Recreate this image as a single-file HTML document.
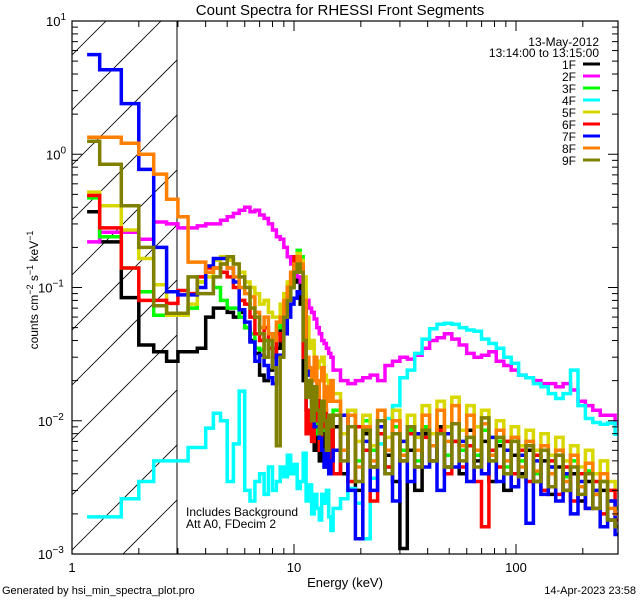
<!DOCTYPE html>
<html><head><meta charset="utf-8"><style>
html,body{margin:0;padding:0;background:#fff;width:640px;height:600px;overflow:hidden;}
svg{display:block;font-family:"Liberation Sans",sans-serif;}
</style></head><body>
<svg id="chart" width="640" height="600" viewBox="0 0 640 600">
<defs><clipPath id="plotclip"><rect x="72" y="21" width="546" height="533"/></clipPath>
<clipPath id="hatchclip"><rect x="72" y="21" width="105" height="533"/></clipPath></defs>
<rect width="640" height="600" fill="#fff"/>
<text x="340" y="15" font-size="15" text-anchor="middle">Count Spectra for RHESSI Front Segments</text>
<g id="hatch" clip-path="url(#hatchclip)"></g>
<line x1="177" y1="21" x2="177" y2="554" stroke="#000" stroke-width="1"/>
<g id="series" clip-path="url(#plotclip)"></g>
<rect x="72" y="21" width="546" height="533" fill="none" stroke="#000" stroke-width="1.2"/>
<g id="ticks"></g>
<text x="186" y="516" font-size="12">Includes Background</text>
<text x="186" y="528" font-size="12">Att A0, FDecim 2</text>
<text x="345" y="587" font-size="13" text-anchor="middle">Energy (keV)</text>
<text transform="translate(38,290) rotate(-90)" font-size="12" text-anchor="middle">counts cm<tspan font-size="9" dy="-5">−2</tspan><tspan dy="5"> s</tspan><tspan font-size="9" dy="-5">−1</tspan><tspan dy="5"> keV</tspan><tspan font-size="9" dy="-5">−1</tspan></text>
<text x="2" y="594" font-size="11">Generated by hsi_min_spectra_plot.pro</text>
<text x="636" y="594" font-size="11" text-anchor="end">14-Apr-2023 23:58</text>
<text x="599" y="46" font-size="12" text-anchor="end">13-May-2012</text>
<text x="599" y="57" font-size="12" text-anchor="end">13:14:00 to 13:15:00</text>
<g id="legend"></g>
</svg>
<script>
const seriesNames = ["1F","2F","3F","4F","5F","6F","7F","8F","9F"];
const seriesColors = ["#000000","#ff00ff","#00ff00","#00ffff","#d8d800","#ff0000","#0000ff","#ff8000","#808000"];
const lowEdges = [1.17,1.333,1.667,2.0,2.333,2.667,3.0];
const xTickMajors = [1,10,100];
const xTickLabels = ["1","10","100"];
const yTickExps = [-3,-2,-1,0,1];

const s1F = [0.37,0.22,0.084,0.037,0.033,0.028,
0.033,0.033,0.035,0.06,0.07,0.07,0.065,0.06,0.065,0.05,0.04,0.032,0.022,0.02,0.024,0.03,0.035,0.05,0.07,0.09,0.1,0.12,0.11,0.075,0.02,0.012,0.008,0.009,0.006,0.0075,0.005,0.008,0.0045,0.007,0.006,0.0055,
0.009,0.004,0.012,0.003,0.008,0.0045,0.010,0.0055,0.0035,0.0011,0.006,0.003,0.008,0.005,0.009,0.0045,0.007,0.004,0.0085,0.005,0.007,0.0035,0.0065,0.003,0.0055,0.004,0.006,0.0035,0.005,0.0028,0.0045,0.003,0.004,0.0025,0.0035,0.0022,0.003,0.0018,0.0016];
const s2F = [0.22,0.26,0.26,0.23,0.31,0.30,
0.28,0.28,0.29,0.30,0.30,0.32,0.34,0.36,0.38,0.40,0.37,0.38,0.35,0.33,0.30,0.27,0.24,0.23,0.20,0.17,0.15,0.14,0.12,0.11,0.09,0.08,0.07,0.065,0.058,0.05,0.045,0.04,0.038,0.035,0.032,0.03,
0.024,0.02,0.019,0.02,0.021,0.022,0.02,0.026,0.028,0.03,0.029,0.031,0.035,0.04,0.042,0.045,0.041,0.037,0.032,0.03,0.031,0.033,0.028,0.026,0.024,0.022,0.021,0.02,0.019,0.019,0.018,0.019,0.017,0.014,0.013,0.012,0.011,0.011,0.0095];
const s3F = [0.47,0.24,0.14,0.093,0.062,0.062,
0.062,0.07,0.11,0.13,0.1,0.08,0.07,0.07,0.06,0.05,0.045,0.035,0.034,0.04,0.035,0.045,0.05,0.06,0.08,0.1,0.12,0.16,0.19,0.17,0.05,0.02,0.015,0.011,0.01,0.008,0.007,0.01,0.0085,0.006,0.008,0.007,
0.012,0.006,0.009,0.005,0.010,0.006,0.008,0.0045,0.009,0.006,0.0085,0.005,0.009,0.0065,0.008,0.0055,0.0095,0.006,0.0075,0.0055,0.0085,0.005,0.007,0.0045,0.0075,0.005,0.0065,0.004,0.006,0.0045,0.0055,0.0038,0.005,0.0032,0.0042,0.0028,0.0035,0.0025,0.0022];
const s4F = [0.0019,0.0019,0.0026,0.0035,0.005,0.005,
0.005,0.0063,0.0063,0.0088,0.0114,0.010,0.0035,0.0067,0.0167,0.003,0.0025,0.0035,0.004,0.0028,0.0045,0.003,0.0035,0.0045,0.0038,0.0055,0.004,0.0047,0.0031,0.0035,0.0057,0.0025,0.0033,0.002,0.0028,0.0022,0.0018,0.0028,0.0024,0.003,0.0019,0.0015,
0.0022,0.0026,0.0031,0.0024,0.0013,0.0037,0.0067,0.0104,0.013,0.021,0.024,0.032,0.041,0.049,0.053,0.054,0.053,0.05,0.048,0.047,0.041,0.038,0.035,0.03,0.027,0.022,0.021,0.019,0.018,0.016,0.0147,0.016,0.024,0.013,0.0104,0.0097,0.0094,0.0096,0.0079];
const s5F = [0.52,0.41,0.27,0.165,0.105,0.062,
0.062,0.075,0.11,0.12,0.16,0.17,0.16,0.15,0.13,0.11,0.1,0.09,0.075,0.08,0.065,0.06,0.06,0.075,0.09,0.11,0.13,0.16,0.18,0.16,0.12,0.06,0.035,0.04,0.03,0.025,0.028,0.03,0.022,0.02,0.018,0.02,
0.016,0.008,0.012,0.007,0.011,0.0065,0.010,0.0075,0.012,0.007,0.011,0.0075,0.013,0.008,0.014,0.009,0.015,0.0085,0.013,0.009,0.012,0.0075,0.010,0.007,0.009,0.0065,0.0085,0.006,0.008,0.0055,0.0075,0.005,0.0065,0.0045,0.006,0.004,0.005,0.0035,0.003];
const s6F = [0.49,0.28,0.14,0.08,0.08,0.076,
0.095,0.09,0.12,0.14,0.14,0.13,0.12,0.1,0.08,0.075,0.06,0.045,0.04,0.05,0.035,0.03,0.045,0.04,0.07,0.1,0.13,0.17,0.16,0.14,0.03,0.008,0.012,0.007,0.01,0.015,0.006,0.009,0.012,0.007,0.005,0.009,
0.004,0.011,0.0035,0.009,0.006,0.0025,0.008,0.0045,0.01,0.005,0.008,0.0045,0.0075,0.005,0.0085,0.004,0.007,0.0045,0.0065,0.0035,0.0016,0.006,0.0045,0.007,0.004,0.006,0.0035,0.0055,0.003,0.005,0.0028,0.0045,0.0025,0.004,0.0022,0.0035,0.002,0.003,0.0018];
const s7F = [5.6,4.3,2.4,0.77,0.2,0.093,
0.088,0.088,0.1,0.145,0.165,0.165,0.14,0.11,0.068,0.055,0.039,0.028,0.031,0.026,0.021,0.019,0.031,0.031,0.045,0.06,0.075,0.083,0.093,0.09,0.078,0.026,0.022,0.0136,0.009,0.009,0.0074,0.006,0.0045,0.007,0.004,0.005,
0.006,0.011,0.003,0.0013,0.007,0.003,0.009,0.004,0.0025,0.007,0.0035,0.008,0.0045,0.0065,0.003,0.008,0.0045,0.007,0.0035,0.006,0.004,0.0075,0.0035,0.006,0.0032,0.0055,0.0017,0.005,0.0028,0.0045,0.0025,0.004,0.002,0.0035,0.0022,0.003,0.0016,0.0025,0.0014];
const s8F = [1.34,1.34,1.21,1.0,0.71,0.46,
0.34,0.155,0.155,0.13,0.14,0.15,0.14,0.12,0.1,0.09,0.085,0.065,0.05,0.06,0.045,0.04,0.055,0.06,0.08,0.1,0.13,0.15,0.17,0.15,0.08,0.03,0.025,0.02,0.03,0.015,0.02,0.025,0.012,0.018,0.014,0.02,
0.014,0.006,0.011,0.0045,0.009,0.005,0.012,0.006,0.01,0.0055,0.009,0.006,0.011,0.0065,0.012,0.007,0.013,0.0065,0.011,0.006,0.0095,0.0055,0.0085,0.005,0.0075,0.0045,0.007,0.0042,0.0065,0.004,0.006,0.0035,0.0055,0.0032,0.0048,0.0028,0.004,0.0022,0.002];
const s9F = [1.25,0.84,0.41,0.2,0.073,0.064,
0.064,0.12,0.09,0.09,0.12,0.15,0.17,0.15,0.12,0.1,0.07,0.06,0.045,0.03,0.04,0.025,0.0065,0.03,0.06,0.08,0.1,0.13,0.15,0.13,0.04,0.015,0.02,0.01,0.018,0.012,0.008,0.014,0.01,0.006,0.011,0.009,
0.011,0.005,0.009,0.0035,0.0085,0.0045,0.01,0.004,0.008,0.005,0.009,0.0045,0.0085,0.005,0.008,0.0045,0.0095,0.005,0.0075,0.0045,0.0105,0.005,0.0075,0.004,0.007,0.0038,0.0065,0.0035,0.006,0.0032,0.0055,0.003,0.0045,0.0028,0.004,0.0022,0.0035,0.0018,0.0016];
const seriesValues = [s1F,s2F,s3F,s4F,s5F,s6F,s7F,s8F,s9F];

const NS = "http://www.w3.org/2000/svg";
const X0 = 72, X1 = 618, Y0 = 21, Y1 = 554;
const decX = 222, decY = (Y1 - Y0) / 4;
function xScale(e){ return X0 + decX * Math.log10(e); }
function yScale(v){ return Y0 + (1 - Math.log10(Math.max(v, 1e-4))) * decY; }

const edges = lowEdges.slice();
for (let k = 1; k <= 36; k++) edges.push(3 + k / 3);
let eHi = 15;
for (let k = 1; k <= 39; k++) { eHi *= 1.08; edges.push(eHi); }

const hatch = document.getElementById('hatch');
for (let c = -600; c < 800; c += 55) {
  const l = document.createElementNS(NS, 'line');
  l.setAttribute('x1', X0); l.setAttribute('y1', c + 600);
  l.setAttribute('x2', X0 + 600); l.setAttribute('y2', c);
  l.setAttribute('stroke', '#000'); l.setAttribute('stroke-width', '0.8');
  
  
  hatch.appendChild(l);
}

const sg = document.getElementById('series');
seriesValues.forEach((vals, si) => {
  const n = Math.min(vals.length, edges.length - 1);
  let d = 'M' + xScale(edges[0]).toFixed(1) + ',' + yScale(vals[0]).toFixed(1);
  for (let i = 0; i < n; i++) {
    if (i > 0) d += 'V' + yScale(vals[i]).toFixed(1);
    d += 'H' + xScale(edges[i + 1]).toFixed(1);
  }
  const p = document.createElementNS(NS, 'path');
  p.setAttribute('d', d);
  p.setAttribute('fill', 'none');
  p.setAttribute('stroke', seriesColors[si]);
  p.setAttribute('stroke-width', '3.5');
  
  
  sg.appendChild(p);
});

const tg = document.getElementById('ticks');
function line(x1, y1, x2, y2, name) {
  const l = document.createElementNS(NS, 'line');
  l.setAttribute('x1', x1); l.setAttribute('y1', y1); l.setAttribute('x2', x2); l.setAttribute('y2', y2);
  l.setAttribute('stroke', '#000'); l.setAttribute('stroke-width', '1');
  
  
  tg.appendChild(l);
}
function text(x, y, str, anchor, name, size) {
  const t = document.createElementNS(NS, 'text');
  t.setAttribute('x', x); t.setAttribute('y', y);
  t.setAttribute('text-anchor', anchor);
  t.setAttribute('font-size', size || 13);
  t.textContent = str;
  
  
  tg.appendChild(t);
  return t;
}
for (let dec = 0; dec < 3; dec++) {
  for (let m = 1; m <= 9; m++) {
    const e = Math.pow(10, dec) * m;
    const x = xScale(e);
    if (x > X1) continue;
    const len = m === 1 ? 10 : 6;
    line(x, Y1, x, Y1 - len, 'x-tick');
    line(x, Y0, x, Y0 + len, 'x-tick-top');
  }
}
xTickMajors.forEach((e, i) => text(xScale(e), 572, xTickLabels[i], 'middle', 'x-tick-label'));
yTickExps.forEach(p => {
  const y = yScale(Math.pow(10, p));
  line(X0, y, X0 + 10, y, 'y-tick');
  line(X1, y, X1 - 10, y, 'y-tick-right');
  const t = text(62, y + 5, '10', 'end', 'y-tick-label');
  const ts = document.createElementNS(NS, 'tspan');
  ts.setAttribute('font-size', '10'); ts.setAttribute('dy', '-6');
  ts.textContent = p < 0 ? '−' + (-p) : String(p);
  t.setAttribute('text-anchor', 'start');
  t.setAttribute('x', p < 0 ? 38 : 46);
  t.appendChild(ts);
  if (p < 1) {
    for (let m = 2; m <= 9; m++) {
      const yy = yScale(Math.pow(10, p) * m);
      line(X0, yy, X0 + 6, yy, 'y-minor-tick');
      line(X1, yy, X1 - 6, yy, 'y-minor-tick-right');
    }
  }
});

const lg = document.getElementById('legend');
seriesNames.forEach((nm, i) => {
  const y = 64 + i * 12;
  const t = document.createElementNS(NS, 'text');
  t.setAttribute('x', 576); t.setAttribute('y', y + 5);
  t.setAttribute('text-anchor', 'end'); t.setAttribute('font-size', '12');
  t.textContent = nm;
  
  
  lg.appendChild(t);
  const l = document.createElementNS(NS, 'line');
  l.setAttribute('x1', 583); l.setAttribute('x2', 600);
  l.setAttribute('y1', y); l.setAttribute('y2', y);
  l.setAttribute('stroke', seriesColors[i]); l.setAttribute('stroke-width', '3');
  
  
  lg.appendChild(l);
});
</script>
</body></html>
